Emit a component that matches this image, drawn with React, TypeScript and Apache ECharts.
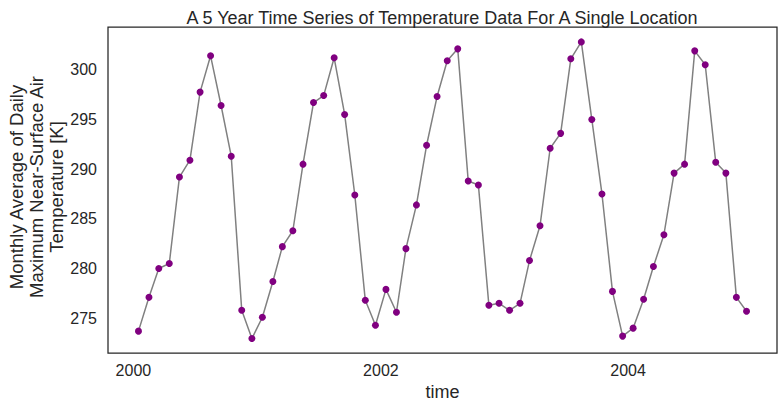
import { useEffect, useRef } from 'react';
import * as echarts from 'echarts';

// monthly mean of daily max near-surface air temperature [K]
const temps2000 = [273.7, 277.1, 280.0, 280.5, 289.2, 290.9, 297.75, 301.4, 296.4, 291.3, 275.8, 272.95];
const temps2001 = [275.1, 278.7, 282.2, 283.8, 290.5, 296.7, 297.4, 301.2, 295.5, 287.4, 276.8, 274.3];
const temps2002 = [277.9, 275.6, 282.0, 286.4, 292.4, 297.3, 300.9, 302.1, 288.8, 288.4, 276.3, 276.5];
const temps2003 = [275.8, 276.5, 280.8, 284.3, 292.1, 293.6, 301.1, 302.8, 295.0, 287.5, 277.7, 273.2];
const temps2004 = [274.0, 276.9, 280.2, 283.4, 289.6, 290.5, 301.9, 300.5, 290.7, 289.6, 277.1, 275.7];

const years = [2000, 2001, 2002, 2003, 2004];
const yearTemps = [temps2000, temps2001, temps2002, temps2003, temps2004];
const xTickYears = [2000, 2002, 2004];
const yTicks = [275, 280, 285, 290, 295, 300];

const textColor = '#262626';
const fontFamily = '"Liberation Sans", Arial, sans-serif';

export default function App() {
  const chartRef = useRef<HTMLDivElement>(null);

  useEffect(() => {
    if (!chartRef.current) return;
    const chart = echarts.init(chartRef.current, null, { renderer: 'svg' });

    // mid-month time stamps
    const points: [number, number][] = [];
    years.forEach((y, i) => {
      yearTemps[i].forEach((t, m) => {
        points.push([Date.UTC(y, m, 16), t]);
      });
    });

    const option: echarts.EChartsOption = {
      animation: false,
      backgroundColor: '#ffffff',
      textStyle: { fontFamily },
      title: {
        text: 'A 5 Year Time Series of Temperature Data For A Single Location',
        left: 437,
        textAlign: 'center',
        top: 4,
        textStyle: {
          color: textColor,
          fontSize: 18,
          fontWeight: 'normal',
          fontFamily,
        },
      },
      graphic: [
        {
          type: 'text',
          x: 36,
          y: 187,
          rotation: Math.PI / 2,
          style: {
            text: 'Monthly Average of Daily\nMaximum Near-Surface Air\nTemperature [K]',
            fill: textColor,
            fontSize: 18.5,
            lineHeight: 20,
            fontFamily,
            align: 'center',
            verticalAlign: 'middle',
          },
        },
      ],
      grid: {
        left: 108,
        right: 7,
        top: 27,
        bottom: 54,
        show: true,
        borderColor: textColor,
        borderWidth: 1.25,
      },
      xAxis: {
        type: 'value',
        min: Date.UTC(1999, 9, 18),
        max: Date.UTC(2005, 2, 16),
        name: 'time',
        nameLocation: 'middle',
        nameGap: 26,
        nameTextStyle: { color: textColor, fontSize: 18, fontFamily },
        axisLine: { show: false },
        axisTick: { show: false },
        splitLine: { show: false },
        axisLabel: {
          customValues: xTickYears.map(y => Date.UTC(y, 0, 1)),
          formatter: (v: number) => String(new Date(v).getUTCFullYear()),
          color: textColor,
          fontSize: 16,
          margin: 9,
          fontFamily,
        },
      },
      yAxis: {
        type: 'value',
        min: 271.5,
        max: 304.3,
        axisLine: { show: false },
        axisTick: { show: false },
        splitLine: { show: false },
        axisLabel: {
          customValues: yTicks,
          color: textColor,
          fontSize: 16,
          margin: 11,
          fontFamily,
        },
      },
      series: [
        {
          type: 'line',
          data: points,
          symbol: 'circle',
          symbolSize: 7,
          lineStyle: { color: '#808080', width: 1.5 },
          itemStyle: { color: '#800080' },
        },
      ],
    };

    chart.setOption(option);
    return () => chart.dispose();
  }, []);

  return (
    <div
      ref={chartRef}
      style={{ position: 'fixed', left: 0, top: 0, width: '784px', height: '407px' }}
    />
  );
}
